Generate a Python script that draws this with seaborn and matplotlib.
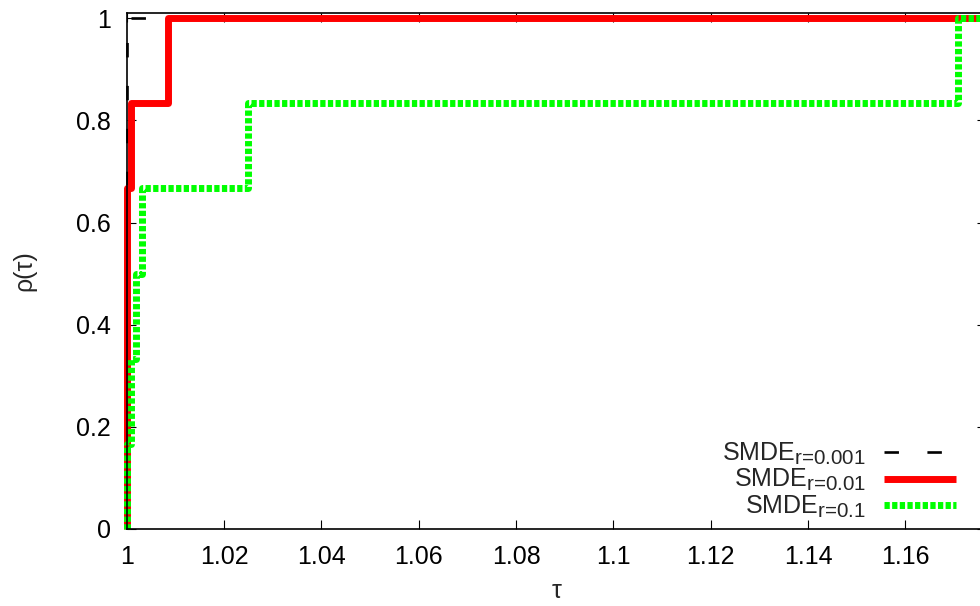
import matplotlib
matplotlib.use("Agg")
import matplotlib.pyplot as plt
import matplotlib._mathtext as _mt
import seaborn as sns
import pandas as pd

# ---- data (performance profile, 6 problems) ----
rho_levels = [0, 1/6, 2/6, 3/6, 4/6, 5/6, 1, 1]
tau_r0001 = [1.0, 1.0, 1.0, 1.0, 1.0, 1.0, 1.0, 1.18]
tau_r001 = [1.0, 1.0, 1.0, 1.0, 1.0, 1.0008, 1.0084, 1.18]
tau_r01 = [1.0, 1.0, 1.0008, 1.0020, 1.0031, 1.0250, 1.1708, 1.18]
labels = [r"SMDE$_{\text{r=0.001}}$", r"SMDE$_{\text{r=0.01}}$", r"SMDE$_{\text{r=0.1}}$"]
xticks = [1, 1.02, 1.04, 1.06, 1.08, 1.1, 1.12, 1.14, 1.16]
xtick_labels = ["1", "1.02", "1.04", "1.06", "1.08", "1.1", "1.12", "1.14", "1.16"]
yticks = [0, 0.2, 0.4, 0.6, 0.8, 1]
ytick_labels = ["0", "0.2", "0.4", "0.6", "0.8", "1"]

sns.set_style("ticks")
plt.rcParams["font.family"] = ["Liberation Sans", "DejaVu Sans"]
plt.rcParams["mathtext.fontset"] = "custom"
plt.rcParams["mathtext.rm"] = "Liberation Sans"
plt.rcParams["mathtext.it"] = "Liberation Sans"
plt.rcParams["mathtext.sf"] = "Liberation Sans"
plt.rcParams["lines.scale_dashes"] = False
_mt.SHRINK_FACTOR = 0.82

fig = plt.figure(figsize=(9.8, 6.06), dpi=100)
ax = fig.add_axes([0.1293, 0.1271, 0.877, 0.8512])

styles = [
    dict(color="#000000", lw=1.9, ls=(0, (10.4, 20.5)), zorder=2),
    dict(color="#ff0000", lw=5.0, ls="-", zorder=3),
    dict(color="#00ff00", lw=5.0, ls=(0, (3.8, 1.7)), zorder=4),
]
for taus, lab, st in zip([tau_r0001, tau_r001, tau_r01], labels, styles):
    df = pd.DataFrame({"tau": taus, "rho": rho_levels})
    sns.lineplot(data=df, x="tau", y="rho", estimator=None, sort=False,
                 drawstyle="steps-post", ax=ax, label=lab, color=st["color"],
                 linewidth=st["lw"], linestyle=st["ls"], zorder=st["zorder"],
                 clip_on=False, dash_capstyle="butt", solid_capstyle="butt")

ax.set_xlim(1.0, 1.1766)
ax.set_ylim(0, 1.01)
ax.set_xticks(xticks)
ax.set_xticklabels(xtick_labels)
ax.set_yticks(yticks)
ax.set_yticklabels(ytick_labels)
ax.tick_params(direction="in", length=6.5, width=0.8, labelsize=18, pad=11.5,
               top=True, right=True, colors="black")
for sp in ax.spines.values():
    sp.set_visible(True)
    sp.set_linewidth(1.2)
    sp.set_color("black")
    sp.set_zorder(6)

ax.set_xlabel("τ", fontsize=18, va="center")
ax.xaxis.set_label_coords(0.5, -0.120)
ax.set_ylabel("ρ(τ)", fontsize=18)
ax.yaxis.set_label_coords(-0.105, 0.5)

leg = ax.legend(loc="lower right", bbox_to_anchor=(0.9646, 0.018), frameon=False,
                markerfirst=False, fontsize=18, handlelength=2.85, handletextpad=0.75,
                labelspacing=0.0, borderpad=0, borderaxespad=0)

fig.savefig("out.png", dpi=100, facecolor="white")
